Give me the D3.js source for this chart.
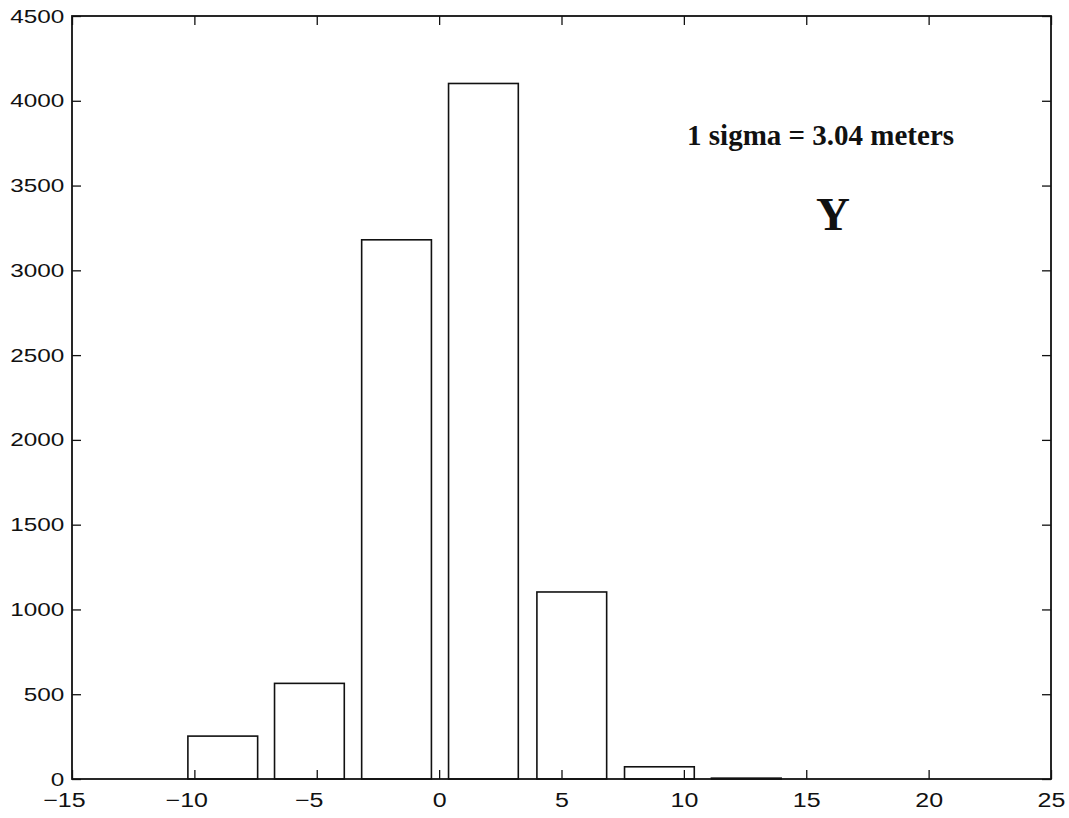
<!DOCTYPE html>
<html>
<head>
<meta charset="utf-8">
<script src="https://cdn.jsdelivr.net/npm/d3@7"></script>
<style>
  body { margin: 0; background: #fff; }
  svg { display: block; }
</style>
</head>
<body>
<div id="chart"></div>
<script>
// histogram bins (centres in metres) and counts
var binCenters = [-8.84, -5.30, -1.74, 1.81, 5.42, 9.00, 12.55];
var binCounts  = [253, 564, 3180, 4102, 1103, 72, 5];
var binWidth = 2.85;

var xTicks = [-15, -10, -5, 0, 5, 10, 15, 20, 25];
var yTicks = [0, 500, 1000, 1500, 2000, 2500, 3000, 3500, 4000, 4500];

var noteText = "1 sigma = 3.04 meters";
var axisText = "Y";

var margin = {top: 16, right: 18, bottom: 39, left: 72},
    width = 1069 - margin.left - margin.right,
    height = 818 - margin.top - margin.bottom;

var x = d3.scaleLinear().domain([-15, 25]).range([0, width]);
var y = d3.scaleLinear().domain([0, 4500]).range([height, 0]);

var svg = d3.select("#chart")
    .append("svg")
    .attr("width", 1069)
    .attr("height", 818)
    .append("g")
    .attr("transform", "translate(" + margin.left + "," + margin.top + ")");

// bars
svg.selectAll("rect.bar")
    .data(binCenters)
    .enter()
    .append("rect")
    .attr("class", "bar")
    .attr("x", function(d) { return x(d - binWidth / 2); })
    .attr("width", function(d) { return x(d + binWidth / 2) - x(d - binWidth / 2); })
    .attr("y", function(d, i) { return y(binCounts[i]); })
    .attr("height", function(d, i) { return y(0) - y(binCounts[i]); })
    .style("fill", "none")
    .style("stroke", "#111")
    .style("stroke-width", 1.6);

var fmt = function(d) { return d < 0 ? "\u2212" + Math.abs(d) : "" + d; };

// bottom axis with inward ticks
var gx = svg.append("g")
    .attr("transform", "translate(0," + height + ")")
    .call(d3.axisBottom(x).tickValues(xTicks).tickFormat(fmt).tickSizeInner(-9).tickSizeOuter(0).tickPadding(14));

// left axis
var gy = svg.append("g")
    .call(d3.axisLeft(y).tickValues(yTicks).tickFormat(d3.format("d")).tickSizeInner(-9).tickSizeOuter(0).tickPadding(6));

// top and right ticks
var gt = svg.append("g")
    .call(d3.axisTop(x).tickValues(xTicks).tickFormat("").tickSizeInner(-9).tickSizeOuter(0));
var gr = svg.append("g")
    .attr("transform", "translate(" + width + ",0)")
    .call(d3.axisRight(y).tickValues(yTicks).tickFormat("").tickSizeInner(-9).tickSizeOuter(0));

[gx, gy, gt, gr].forEach(function(g) {
  g.select(".domain").remove();
  g.selectAll(".tick line").style("stroke", "#111").style("stroke-width", 1.3);
});

// negative labels: digits centred on the tick, minus hangs left
gx.selectAll("text")
    .style("font-family", "'Liberation Sans', Arial, sans-serif")
    .style("font-size", "20px")
    .attr("fill", "#111")
    .attr("x", function(d) { return d < 0 ? -6.5 : 0; })
    .attr("transform", "scale(1.25,1)");

gy.selectAll("text")
    .style("font-family", "'Liberation Sans', Arial, sans-serif")
    .style("font-size", "19px")
    .attr("fill", "#111")
    .attr("transform", "scale(1.28,1)");

// box frame
svg.append("rect")
    .attr("x", 0).attr("y", 0)
    .attr("width", width).attr("height", height)
    .style("fill", "none")
    .style("stroke", "#111")
    .style("stroke-width", 1.8);

// annotations
svg.append("text")
    .attr("x", x(10.13))
    .attr("y", y(3738))
    .style("font-family", "'Liberation Serif', 'Times New Roman', serif")
    .style("font-weight", "bold")
    .style("font-size", "29px")
    .attr("fill", "#111")
    .text(noteText);

svg.append("text")
    .attr("x", x(16.09))
    .attr("y", y(3237))
    .attr("text-anchor", "middle")
    .style("font-family", "'Liberation Serif', 'Times New Roman', serif")
    .style("font-weight", "bold")
    .style("font-size", "47px")
    .attr("fill", "#111")
    .text(axisText);
</script>
</body>
</html>
